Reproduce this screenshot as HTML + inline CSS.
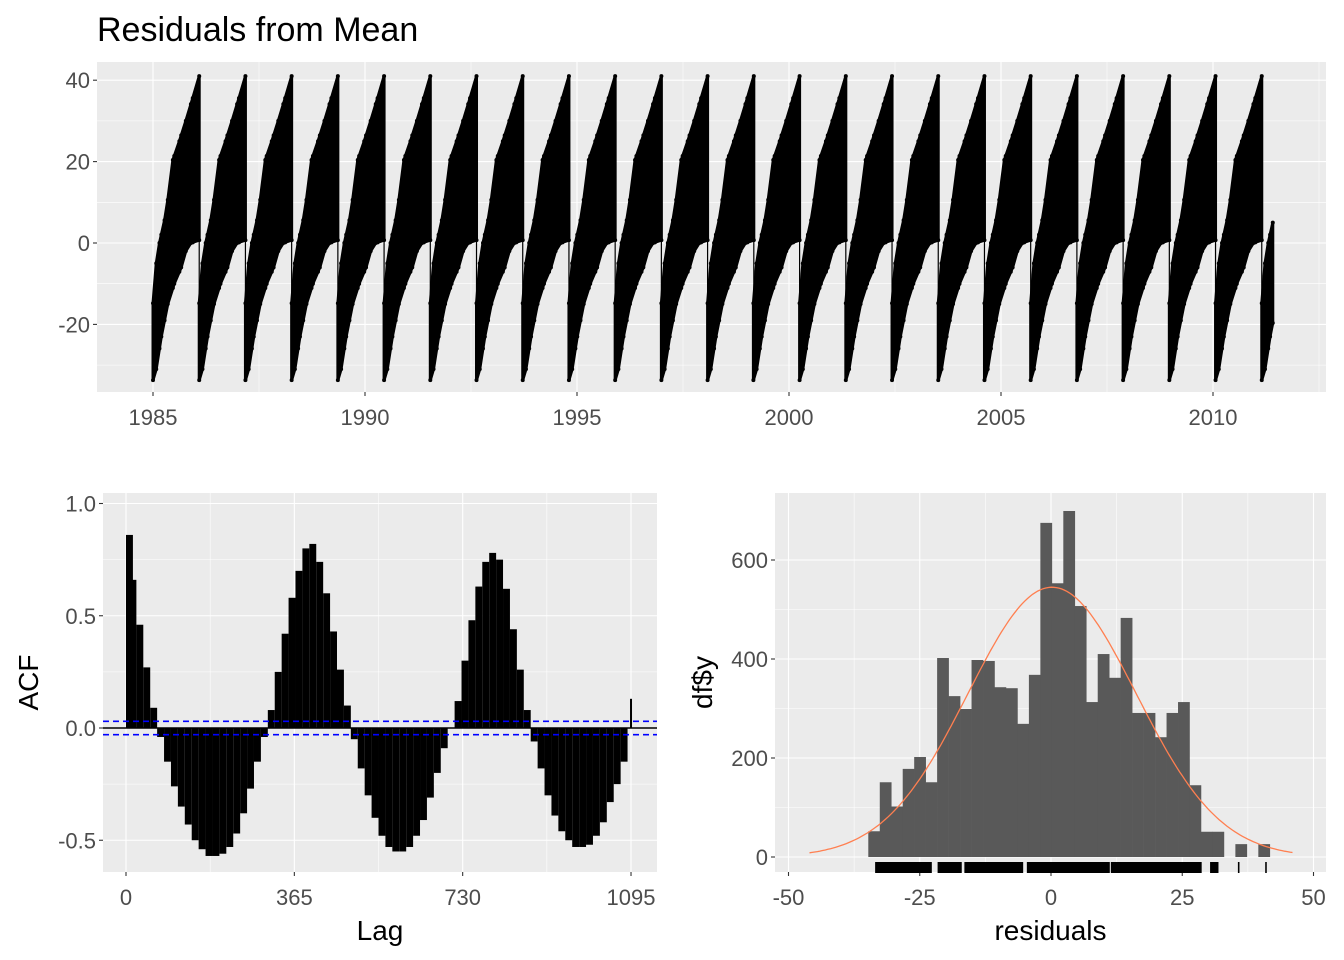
<!DOCTYPE html>
<html><head><meta charset="utf-8"><style>
body{margin:0;background:#fff}
svg{display:block;font-family:"Liberation Sans",sans-serif}
.tl{fill:#4D4D4D;font-size:22px}
.at{fill:#000;font-size:28px}
</style></head><body>
<svg id="s" width="1344" height="960" viewBox="0 0 1344 960">
<rect width="1344" height="960" fill="#fff"/>
<text x="97" y="41" fill="#000" style="font-size:34px">Residuals from Mean</text>
<g id="top"></g>
<g id="acf"></g>
<g id="hist"></g>
</svg>
<script>
// ---- top series data ----
const cycleStarts=[1985.00,1986.09,1987.18,1988.27,1989.36,1990.45,1991.54,1992.63,1993.72,1994.81,1995.90,1996.99,1998.08,1999.16,2000.25,2001.34,2002.43,2003.52,2004.61,2005.70,2006.79,2007.88,2008.97,2010.06,2011.15];
const cycleLength=1.09;
const lastEnd=2011.41;
const phaseUpper=[0,0.07,0.14,0.25,0.32,0.43,0.57,0.71,0.86,1];
const upperVals=[-14.8,-5,0,5.6,10.6,20.4,25,30,35.6,41];
const phaseLower=[0,0.07,0.18,0.32,0.46,0.61,0.71,0.82,1];
const lowerVals=[-33.7,-31,-23,-15,-10,-6,-2,0,0.7];
const topYTicks=[40,20,0,-20];
const topXTicks=[1985,1990,1995,2000,2005,2010];
// ---- ACF data ----
const acfStep=15;
const acfVals=[.86,.66,.46,.27,.09,-.04,-.15,-.26,-.35,-.43,-.5,-.54,-.57,-.57,-.56,-.53,-.47,-.38,-.27,-.15,-.04,.08,.25,.42,.58,.7,.8,.82,.74,.6,.43,.26,.1,-.05,-.18,-.3,-.4,-.48,-.53,-.55,-.55,-.53,-.48,-.41,-.31,-.2,-.09,0,.12,.3,.48,.63,.74,.78,.75,.62,.44,.26,.08,-.06,-.18,-.3,-.39,-.46,-.5,-.53,-.53,-.52,-.48,-.42,-.33,-.25,-.15,.13];
const acfCI=0.03;
const acfYTicks=[1.0,0.5,0.0,-0.5];
const acfXTicks=[0,365,730,1095];
// ---- histogram data ----
const binStart=-34.8, binWidth=2.185;
const binCounts=[52,151,102,178,202,151,402,325,299,398,396,343,341,269,368,675,553,699,507,313,410,362,483,291,291,242,291,313,145,51,51,0,26,0,26];
const rugSegments=[[-33.5,-22.7],[-21.6,-17],[-16.5,-5.3],[-4.6,11.2],[11.4,28.7],[30.3,31.9],[35.6,35.9],[40.8,41.1]];
const normMean=0.2, normSd=16, normPeak=545;
const histYTicks=[0,200,400,600];
const histXTicks=[-50,-25,0,25,50];

const NS="http://www.w3.org/2000/svg";
function mk(p,t,a){const e=document.createElementNS(NS,t);for(const k in a)e.setAttribute(k,a[k]);p.appendChild(e);return e;}
function interp(ph,xs,vs){for(let i=1;i<xs.length;i++){if(ph<=xs[i]){const f=(ph-xs[i-1])/(xs[i]-xs[i-1]);return vs[i-1]+f*(vs[i]-vs[i-1]);}}return vs[vs.length-1];}

function panel(g,x0,y0,x1,y1,xs,ys,xmaj,xmin,ymaj,ymin,xlab,ylab,xfmt,yfmt){
  const bg=mk(g,'rect',{x:x0,y:y0,width:x1-x0,height:y1-y0,fill:'#EBEBEB'});
  
  ymin.forEach(v=>mk(g,'line',{x1:x0,x2:x1,y1:ys(v),y2:ys(v),stroke:'#fff','stroke-width':0.55}));
  xmin.forEach(v=>mk(g,'line',{y1:y0,y2:y1,x1:xs(v),x2:xs(v),stroke:'#fff','stroke-width':0.55}));
  ymaj.forEach(v=>{mk(g,'line',{x1:x0,x2:x1,y1:ys(v),y2:ys(v),stroke:'#fff','stroke-width':1.1});
    mk(g,'line',{x1:x0-4,x2:x0,y1:ys(v),y2:ys(v),stroke:'#333','stroke-width':1.1});
    const t=mk(g,'text',{x:x0-7,y:ys(v)+8,'text-anchor':'end',class:'tl'});t.textContent=yfmt(v);
    });
  xmaj.forEach(v=>{mk(g,'line',{y1:y0,y2:y1,x1:xs(v),x2:xs(v),stroke:'#fff','stroke-width':1.1});
    mk(g,'line',{y1:y1,y2:y1+4,x1:xs(v),x2:xs(v),stroke:'#333','stroke-width':1.1});
    const t=mk(g,'text',{x:xs(v),y:y1+33,'text-anchor':'middle',class:'tl'});t.textContent=xfmt(v);
    });
  if(xlab){const t=mk(g,'text',{x:(x0+x1)/2,y:y1+68,'text-anchor':'middle',class:'at'});t.textContent=xlab;
    }
  if(ylab){const yl=ylab[1];const t=mk(g,'text',{x:0,y:0,'text-anchor':'middle',class:'at',transform:`translate(${yl},${(y0+y1)/2}) rotate(-90)`});t.textContent=ylab[0];
    }
}

// ---- top ----
(function(){
  const g=document.getElementById('top');
  const xs=yr=>153+(yr-1985)*42.4, ys=v=>243-v*4.07;
  panel(g,97,62,1326,392,xs,ys,topXTicks,[1987.5,1992.5,1997.5,2002.5,2007.5,2012.5],topYTicks,[30,10,-10,-30],null,null,v=>v,v=>v);
  const ser=mk(g,'g',{});
  cycleStarts.forEach((s,k)=>{
    const endYr=(k<cycleStarts.length-1)?s+cycleLength:lastEnd;
    const maxPh=(endYr-s)/cycleLength;
    const up=[],lo=[];
    const phs=[...new Set([...phaseUpper,...phaseLower])].filter(p=>p<maxPh).sort((a,b)=>a-b);phs.push(maxPh);
    phs.forEach(p=>{up.push([xs(s+p*cycleLength),ys(interp(p,phaseUpper,upperVals))]);lo.push([xs(s+p*cycleLength),ys(interp(p,phaseLower,lowerVals))]);});
    const pts=up.concat(lo.reverse()).map(q=>q.join(',')).join(' ');
    const pg=mk(ser,'polygon',{points:pts,fill:'#000',stroke:'#000','stroke-width':3,'stroke-linejoin':'round'});
    
    up.concat(lo).forEach(q=>mk(ser,'circle',{cx:q[0],cy:q[1],r:2,fill:'#000'}));
    if(k<cycleStarts.length-1){
      mk(ser,'line',{x1:xs(endYr),x2:xs(endYr),y1:ys(41),y2:ys(-33),stroke:'#000','stroke-width':1.2});
    }
  });
})();

// ---- ACF ----
(function(){
  const g=document.getElementById('acf');
  const xs=l=>126+l*0.4612, ys=v=>728-v*224.5;
  panel(g,103,493,657,872,xs,ys,acfXTicks,[182.5,547.5,912.5],acfYTicks,[0.75,0.25,-0.25],'Lag',['ACF',38],v=>v,v=>v.toFixed(1));
  const bars=mk(g,'g',{});
  acfVals.forEach((v,i)=>{
    const l=i*acfStep, w=Math.max(2,acfStep*0.4612*(i===acfVals.length-1?0.2:1));
    const x=xs(l)-(i===0?0:w/2);
    const r=mk(bars,'rect',{x:x,y:Math.min(ys(v),ys(0)),width:w,height:Math.abs(ys(v)-ys(0)),fill:'#000'});
    
  });
  mk(g,'line',{x1:103,x2:657,y1:ys(0),y2:ys(0),stroke:'#000','stroke-width':1.5});
  [acfCI,-acfCI].forEach(c=>{const l=mk(g,'line',{x1:103,x2:657,y1:ys(c),y2:ys(c),stroke:'#0000FF','stroke-width':1.6,'stroke-dasharray':'6,4'});
    });
})();

// ---- histogram ----
(function(){
  const g=document.getElementById('hist');
  const xs=v=>1051+v*5.25, ys=c=>857-c*0.495;
  panel(g,775,493,1326,872,xs,ys,histXTicks,[-37.5,-12.5,12.5,37.5],histYTicks,[100,300,500],'residuals',['df$y',712],v=>v,v=>v);
  const hb=mk(g,'g',{});
  binCounts.forEach((c,i)=>{if(c<=0)return;
    const a=binStart+i*binWidth;
    const r=mk(hb,'rect',{x:xs(a),y:ys(c),width:xs(a+binWidth)-xs(a)+0.3,height:ys(0)-ys(c),fill:'#595959'});
    
  });
  let d='';for(let v=-46;v<=46;v+=0.5){const c=normPeak*Math.exp(-((v-normMean)**2)/(2*normSd*normSd));d+=(d?'L':'M')+xs(v).toFixed(1)+','+ys(c).toFixed(1);}
  const p=mk(g,'path',{d:d,fill:'none',stroke:'#FF7F50','stroke-width':1.3});
  
  const rg=mk(g,'g',{});
  rugSegments.forEach(s=>{const r=mk(rg,'rect',{x:xs(s[0]),y:862,width:Math.max(1.2,xs(s[1])-xs(s[0])),height:11,fill:'#000'});
    });
})();
</script>
</body></html>
